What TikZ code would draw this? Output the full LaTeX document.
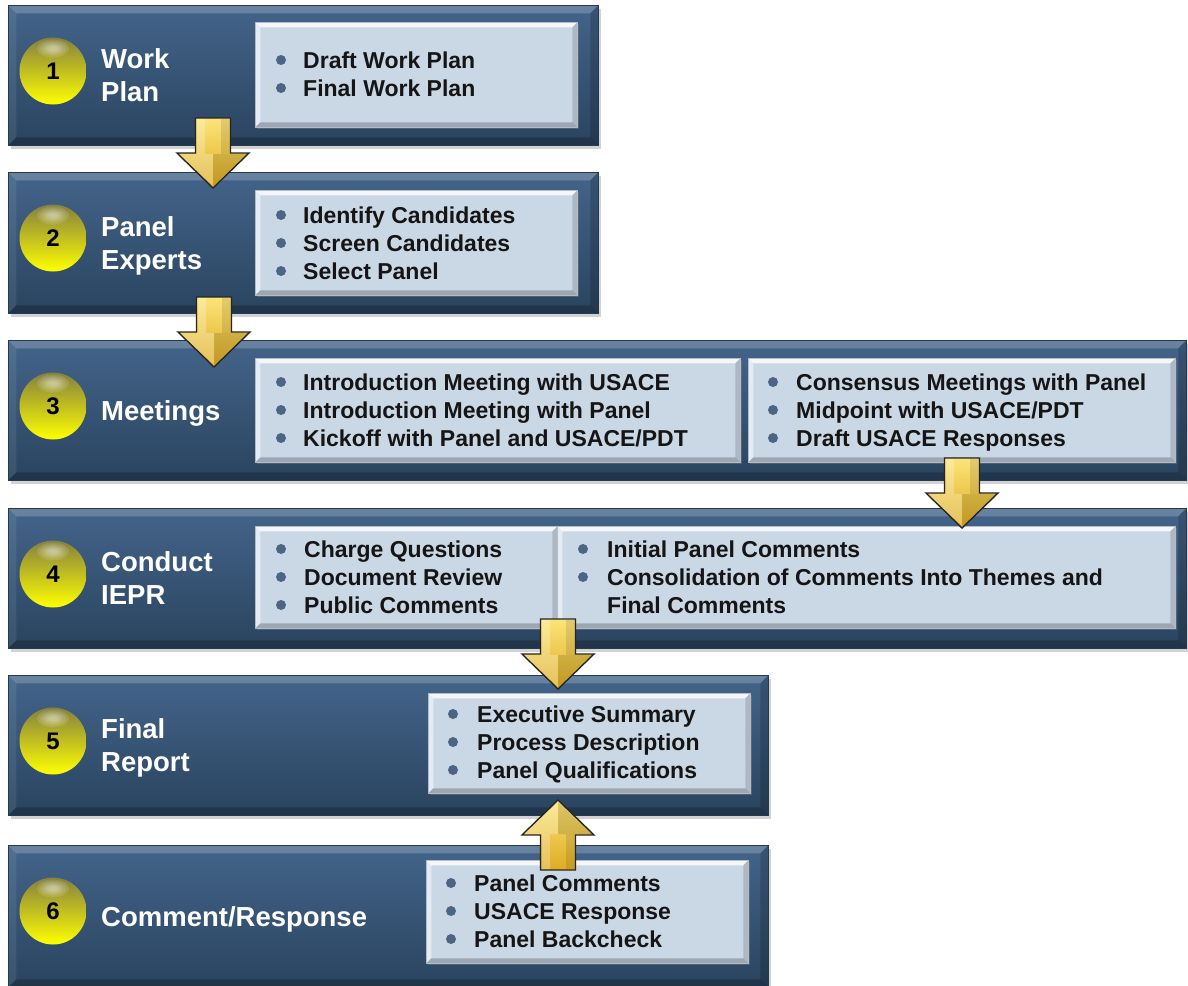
\documentclass[tikz,border=0pt]{standalone}
\usepackage{fontspec}
\setmainfont{Liberation Sans}
\usetikzlibrary{shadows,calc}
\definecolor{pantop}{HTML}{43648A}
\definecolor{panbot}{HTML}{2A445F}
\definecolor{boxfill}{HTML}{CAD7E5}
\definecolor{bulc}{HTML}{4B6584}
\definecolor{txt}{HTML}{151515}
\definecolor{goldhi}{HTML}{FCE47A}
\definecolor{goldlo}{HTML}{DDAC22}
\definecolor{balltop}{HTML}{858040}
\definecolor{ballmid}{HTML}{DCD800}
\definecolor{ballbot}{HTML}{FFFF00}
\tikzset{
  bevel/.style n args={5}{path picture={
    \coordinate (ppnw) at (path picture bounding box.north west);
    \coordinate (ppne) at (path picture bounding box.north east);
    \coordinate (ppsw) at (path picture bounding box.south west);
    \coordinate (ppse) at (path picture bounding box.south east);
    \fill[white,opacity=#2] (ppnw) -- (ppne) -- ([shift={(-#1,-#1)}]ppne) -- ([shift={(#1,-#1)}]ppnw) -- cycle;
    \fill[white,opacity=#3] (ppnw) -- (ppsw) -- ([shift={(#1,#1)}]ppsw) -- ([shift={(#1,-#1)}]ppnw) -- cycle;
    \fill[black,opacity=#4] (ppsw) -- (ppse) -- ([shift={(-#1,#1)}]ppse) -- ([shift={(#1,#1)}]ppsw) -- cycle;
    \fill[black,opacity=#5] (ppne) -- (ppse) -- ([shift={(-#1,#1)}]ppse) -- ([shift={(-#1,-#1)}]ppne) -- cycle;
  }},
  panel/.style={anchor=north west, inner sep=0, top color=pantop, bottom color=panbot,
    draw=panbot!85!black, line width=0.6,
    drop shadow={shadow xshift=3pt, shadow yshift=-4pt, opacity=0.35},
    bevel={8pt}{0.2}{0.08}{0.22}{0.16}},
  infobox/.style={anchor=north west, inner sep=0, fill=boxfill,
    draw=boxfill!70!gray, line width=0.5,
    drop shadow={shadow xshift=2pt, shadow yshift=-2pt, opacity=0.45},
    bevel={5pt}{0.8}{0.5}{0.22}{0.14}},
  ball/.style={circle, minimum size=67, inner sep=0, top color=balltop, middle color=ballmid,
    bottom color=ballbot, text=black, font=\fontsize{24}{24}\selectfont\bfseries,
    path picture={
      \foreach \s in {1,0.8,0.6,0.45,0.3}
        \fill[white,opacity=0.12] ([yshift=-11pt]path picture bounding box.north) ellipse ({16pt*\s} and {9pt*\s});}},
  title/.style={anchor=base west, inner sep=0, text=white, font=\fontsize{27.5}{33}\selectfont\bfseries},
  item/.style={anchor=base west, inner sep=0, text=txt, font=\fontsize{23}{28}\selectfont\bfseries},
  dot/.style={circle, fill=bulc, minimum size=10, inner sep=0},
  goldarr/.style={top color=goldhi, bottom color=goldlo, draw=black!85, line width=1.4, line join=miter},
  darrow/.pic={
    \draw[goldarr] (-17.5,0) -- (17.5,0) -- (17.5,35) -- (36,35) -- (0,70) -- (-36,35) -- (-17.5,35) -- cycle;
    \fill[white,opacity=0.25] (-16.5,1) -- (-8,1) -- (-8,36) -- (-16.5,36) -- cycle;
    \fill[black,opacity=0.10] (8,1) -- (16.5,1) -- (16.5,36) -- (8,36) -- cycle;
    \fill[white,opacity=0.25] (-34,36) -- (0,36) -- (0,68) -- cycle;
    \fill[black,opacity=0.12] (34,36) -- (0,68) -- (0,36) -- cycle;
  },
  uarrow/.pic={
    \draw[goldarr] (-17.5,0) -- (17.5,0) -- (17.5,-35) -- (36,-35) -- (0,-70) -- (-36,-35) -- (-17.5,-35) -- cycle;
    \fill[white,opacity=0.25] (-16.5,-1) -- (-8,-1) -- (-8,-36) -- (-16.5,-36) -- cycle;
    \fill[black,opacity=0.10] (8,-1) -- (16.5,-1) -- (16.5,-36) -- (8,-36) -- cycle;
    \fill[white,opacity=0.25] (-34,-36) -- (0,-36) -- (0,-68) -- cycle;
    \fill[black,opacity=0.12] (34,-36) -- (0,-68) -- (0,-36) -- cycle;
  }
}
\begin{document}
\begin{tikzpicture}[x=1pt,y=-1pt]
\useasboundingbox (0,0) rectangle (1188,985);
\fill[white] (0,0) rectangle (1188,985);

% panels
\node[panel, minimum width=590, minimum height=140] (p1) at (8,5) {};
\node[panel, minimum width=590, minimum height=141] (p2) at (8,172) {};
\node[panel, minimum width=1178, minimum height=140] (p3) at (8,340) {};
\node[panel, minimum width=1178, minimum height=140] (p4) at (8,508) {};
\node[panel, minimum width=760, minimum height=140] (p5) at (8,675) {};
\node[panel, minimum width=760, minimum height=142] (p6) at (8,845) {};

% boxes
\node[infobox, minimum width=322, minimum height=105] (b1) at (255,22) {};
\node[infobox, minimum width=322, minimum height=105] (b2) at (255,190) {};
\node[infobox, minimum width=485, minimum height=104] (b3a) at (255,358) {};
\node[infobox, minimum width=427, minimum height=104] (b3b) at (748,358) {};
\node[infobox, minimum width=302, minimum height=102] (b4a) at (255,526) {};
\node[infobox, minimum width=618, minimum height=102] (b4b) at (557,526) {};
\node[infobox, minimum width=322, minimum height=100] (b5) at (428,693) {};
\node[infobox, minimum width=322, minimum height=103] (b6) at (426,860) {};

% balls
\node[ball] (c1) at (53,71) {1};
\node[ball] (c2) at (53,238) {2};
\node[ball] (c3) at (53,406) {3};
\node[ball] (c4) at (53,574) {4};
\node[ball] (c5) at (53,741) {5};
\node[ball] (c6) at (53,911) {6};

% titles
\node[title] (t1a) at (101,68) {Work};
\node[title] (t1b) at (101,101) {Plan};
\node[title] (t2a) at (101,236) {Panel};
\node[title] (t2b) at (101,269) {Experts};
\node[title] (t3a) at (101,420) {Meetings};
\node[title] (t4a) at (101,571) {Conduct};
\node[title] (t4b) at (101,604) {IEPR};
\node[title] (t5a) at (101,738) {Final};
\node[title] (t5b) at (101,771) {Report};
\node[title] (t6a) at (101,926) {Comment/Response};

% box 1
\node[dot] (d1a) at (281,60) {};  \node[item] (i1a) at (303,68) {Draft Work Plan};
\node[dot] (d1b) at (281,88) {};  \node[item] (i1b) at (303,96) {Final Work Plan};
% box 2
\node[dot] (d2a) at (281,215) {}; \node[item] (i2a) at (303,223) {Identify Candidates};
\node[dot] (d2b) at (281,243) {}; \node[item] (i2b) at (303,251) {Screen Candidates};
\node[dot] (d2c) at (281,271) {}; \node[item] (i2c) at (303,279) {Select Panel};
% box 3a
\node[dot] (d3a) at (281,382) {}; \node[item] (i3a) at (303,390) {Introduction Meeting with USACE};
\node[dot] (d3b) at (281,410) {}; \node[item] (i3b) at (303,418) {Introduction Meeting with Panel};
\node[dot] (d3c) at (281,438) {}; \node[item] (i3c) at (303,446) {Kickoff with Panel and USACE/PDT};
% box 3b
\node[dot] (d3d) at (773,382) {}; \node[item] (i3d) at (796,390) {Consensus Meetings with Panel};
\node[dot] (d3e) at (773,410) {}; \node[item] (i3e) at (796,418) {Midpoint with USACE/PDT};
\node[dot] (d3f) at (773,438) {}; \node[item] (i3f) at (796,446) {Draft USACE Responses};
% box 4a
\node[dot] (d4a) at (281,549) {}; \node[item] (i4a) at (304,557) {Charge Questions};
\node[dot] (d4b) at (281,577) {}; \node[item] (i4b) at (304,585) {Document Review};
\node[dot] (d4c) at (281,605) {}; \node[item] (i4c) at (304,613) {Public Comments};
% box 4b
\node[dot] (d4d) at (583,549) {}; \node[item] (i4d) at (607,557) {Initial Panel Comments};
\node[dot] (d4e) at (583,577) {}; \node[item] (i4e) at (607,585) {Consolidation of Comments Into Themes and};
\node[item] (i4f) at (607,613) {Final Comments};
% box 5
\node[dot] (d5a) at (453,714) {}; \node[item] (i5a) at (477,722) {Executive Summary};
\node[dot] (d5b) at (453,742) {}; \node[item] (i5b) at (477,750) {Process Description};
\node[dot] (d5c) at (453,770) {}; \node[item] (i5c) at (477,778) {Panel Qualifications};
% box 6
\node[dot] (d6a) at (451,883) {}; \node[item] (i6a) at (474,891) {Panel Comments};
\node[dot] (d6b) at (451,911) {}; \node[item] (i6b) at (474,919) {USACE Response};
\node[dot] (d6c) at (451,939) {}; \node[item] (i6c) at (474,947) {Panel Backcheck};

% block arrows
\coordinate (a1) at (213,118);
\coordinate (a2) at (214,297);
\coordinate (a3) at (962,458);
\coordinate (a4) at (558,619);
\coordinate (a5) at (558,870);
\pic at (a1) {darrow};
\pic at (a2) {darrow};
\pic at (a3) {darrow};
\pic at (a4) {darrow};
\pic at (a5) {uarrow};
\end{tikzpicture}
\end{document}
